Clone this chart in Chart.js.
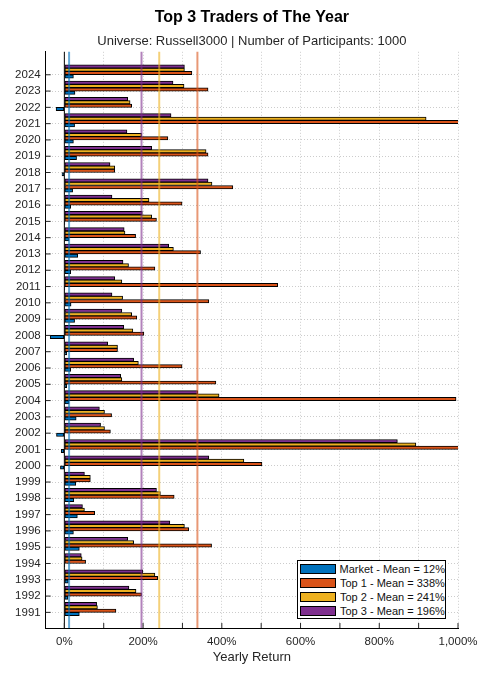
<!DOCTYPE html>
<html lang="en">
<head>
    <meta charset="UTF-8">
    <meta name="viewport" content="width=device-width, initial-scale=1.0">
    <title>Top 3 Traders of The Year</title>
    <script src="https://cdn.jsdelivr.net/npm/chart.js"></script>
    <style>
        body { margin: 0; background: #fff; font-family: "Liberation Sans", Arial, sans-serif; }
        #wrap { position: relative; width: 495px; height: 673px; }
        #legend {
            position: absolute; left: 297px; top: 560px; width: 149px; height: 59px;
            box-sizing: border-box; border: 1px solid #000; background: #fff;
            padding-top: 1px; font-size: 11px; color: #111;
        }
        #legend .row { height: 14.1px; display: flex; align-items: center; white-space: nowrap; }
        #legend .sw { box-sizing: border-box; width: 36px; height: 10px; border: 1.5px solid #000; margin: 0 4px 0 2px; }
    </style>
</head>
<body>
    <div id="wrap">
        <canvas id="chart"></canvas>
        <div id="legend"></div>
    </div>

    <script>
        // years, bottom to top
        const years = [1991, 1992, 1993, 1994, 1995, 1996, 1997, 1998, 1999, 2000,
                       2001, 2002, 2003, 2004, 2005, 2006, 2007, 2008, 2009, 2010,
                       2011, 2012, 2013, 2014, 2015, 2016, 2017, 2018, 2019, 2020,
                       2021, 2022, 2023, 2024];

        // yearly return in %
        const market = [38, 9, 10, 0.5, 38, 23, 33, 24, 29, -10,
                        -8, -20, 30, 12, 6, 16, 6, -36, 26, 17,
                        1, 16, 34, 12, 1, 16, 21, -6, 31, 23,
                        26, -21, 27, 23];
        const top1 = [131, 196, 237, 54, 374, 316, 77, 279, 66, 502,
                      1230, 117, 120, 995, 385, 299, 135, 202, 184, 367,
                      542, 230, 346, 181, 234, 299, 428, 128, 365, 263,
                      1350, 171, 365, 324];
        const top2 = [84, 182, 230, 45, 176, 305, 51, 244, 66, 456,
                      893, 102, 102, 393, 146, 188, 135, 174, 171, 148,
                      146, 163, 277, 154, 222, 215, 375, 128, 360, 196,
                      919, 167, 304, 305];
        const top3 = [82, 164, 199, 43, 161, 268, 46, 234, 51, 367,
                      846, 92, 89, 339, 143, 176, 110, 151, 146, 121,
                      128, 149, 265, 152, 198, 121, 365, 116, 222, 159,
                      271, 161, 276, 305];

        const seriesNames = ["Market", "Top 1", "Top 2", "Top 3"];
        const means = [12, 338, 241, 196];
        const xTicks = [0, 100, 200, 300, 400, 500, 600, 700, 800, 900, 1000];

        const colors = ["#0072BD", "#D95319", "#EDB120", "#7E2F8E"];
        const meanColors = ["rgba(0,114,189,0.6)", "rgba(217,83,25,0.6)", "rgba(237,177,32,0.6)", "rgba(126,47,142,0.6)"];

        Chart.defaults.font.family = '"Liberation Sans", Arial, sans-serif';
        Chart.defaults.color = "#262626";

        // baseline, mean lines and inward tick marks
        const overlay = {
            id: "overlay",
            afterDatasetsDraw(chart) {
                const { ctx, chartArea: a, scales: { x, y } } = chart;
                ctx.save();
                ctx.lineWidth = 1;
                ctx.strokeStyle = "#000";
                const x0 = x.getPixelForValue(0);
                ctx.beginPath();
                ctx.moveTo(x0, a.top);
                ctx.lineTo(x0, a.bottom);
                ctx.stroke();

                ctx.lineWidth = 2;
                means.forEach((m, i) => {
                    const px = x.getPixelForValue(m);
                    ctx.strokeStyle = meanColors[i];
                    ctx.beginPath();
                    ctx.moveTo(px, a.top);
                    ctx.lineTo(px, a.bottom);
                    ctx.stroke();
                });

                ctx.lineWidth = 1;
                ctx.strokeStyle = "#262626";
                ctx.beginPath();
                years.forEach(v => {
                    const py = y.getPixelForValue(v);
                    ctx.moveTo(a.left, py);
                    ctx.lineTo(a.left + 5, py);
                });
                xTicks.forEach(v => {
                    const px = x.getPixelForValue(v);
                    ctx.moveTo(px, a.bottom);
                    ctx.lineTo(px, a.bottom - 5);
                });
                ctx.stroke();
                ctx.restore();
            }
        };

        // drawn top to bottom within a year; two empty slots put the tick between Top 1 and Market
        const datasets = [
            { label: "Top 3", data: top3, backgroundColor: colors[3] },
            { label: "Top 2", data: top2, backgroundColor: colors[2] },
            { label: "Top 1", data: top1, backgroundColor: colors[1] },
            { label: "Market", data: market, backgroundColor: colors[0] },
            { label: "", data: [] },
            { label: "", data: [] }
        ];

        new Chart(document.getElementById("chart"), {
            type: "bar",
            data: { labels: years, datasets: datasets },
            options: {
                indexAxis: "y",
                responsive: true,
                maintainAspectRatio: false,
                animation: false,
                layout: { padding: { left: 0, right: 37, top: 0, bottom: 8 } },
                datasets: {
                    bar: { barThickness: 3.33, borderWidth: 1, borderColor: "#000", borderSkipped: false }
                },
                plugins: {
                    legend: { display: false },
                    tooltip: { enabled: false },
                    title: {
                        display: true, text: "Top 3 Traders of The Year", fullSize: false,
                        color: "#000", font: { size: 16, weight: "bold" }, padding: { top: 7.5, bottom: 0 }
                    },
                    subtitle: {
                        display: true, text: "Universe: Russell3000 | Number of Participants: 1000", fullSize: false,
                        color: "#262626", font: { size: 13 }, padding: { top: 6.5, bottom: 3 }
                    }
                },
                scales: {
                    x: {
                        type: "linear",
                        min: -47.4,
                        max: 1000,
                        afterBuildTicks: s => { s.ticks = xTicks.map(v => ({ value: v })); },
                        afterFit: s => { s.height = 37; },
                        ticks: {
                            padding: 7,
                            font: { size: 11.5 },
                            maxRotation: 0,
                            autoSkip: false,
                            callback: v => (v % 200 === 0 ? v.toLocaleString("en-US") + "%" : "")
                        },
                        grid: { color: "rgba(0,0,0,0.2)", drawTicks: false },
                        border: { color: "#000", width: 1, dash: [1, 2] },
                        title: { display: true, text: "Yearly Return", font: { size: 13 }, padding: 0 }
                    },
                    y: {
                        type: "linear",
                        offset: false,
                        min: 1990.04,
                        max: 2025.41,
                        stacked: false,
                        afterBuildTicks: s => { s.ticks = years.map(v => ({ value: v })); },
                        afterFit: s => { s.width = 45.7; },
                        ticks: {
                            padding: 5,
                            font: { size: 11.5 },
                            autoSkip: false,
                            callback: v => String(v)
                        },
                        grid: { color: "rgba(0,0,0,0.2)", drawTicks: false, offset: false },
                        border: { color: "#000", width: 1, dash: [1, 2] }
                    }
                }
            },
            plugins: [overlay]
        });

        // legend inside the plot, Market first
        const legend = document.getElementById("legend");
        seriesNames.forEach((n, i) => {
            const row = document.createElement("div");
            row.className = "row";
            const sw = document.createElement("span");
            sw.className = "sw";
            sw.style.background = colors[i];
            row.appendChild(sw);
            row.appendChild(document.createTextNode(n + " - Mean = " + means[i] + "%"));
            legend.appendChild(row);
        });
    </script>
</body>
</html>
